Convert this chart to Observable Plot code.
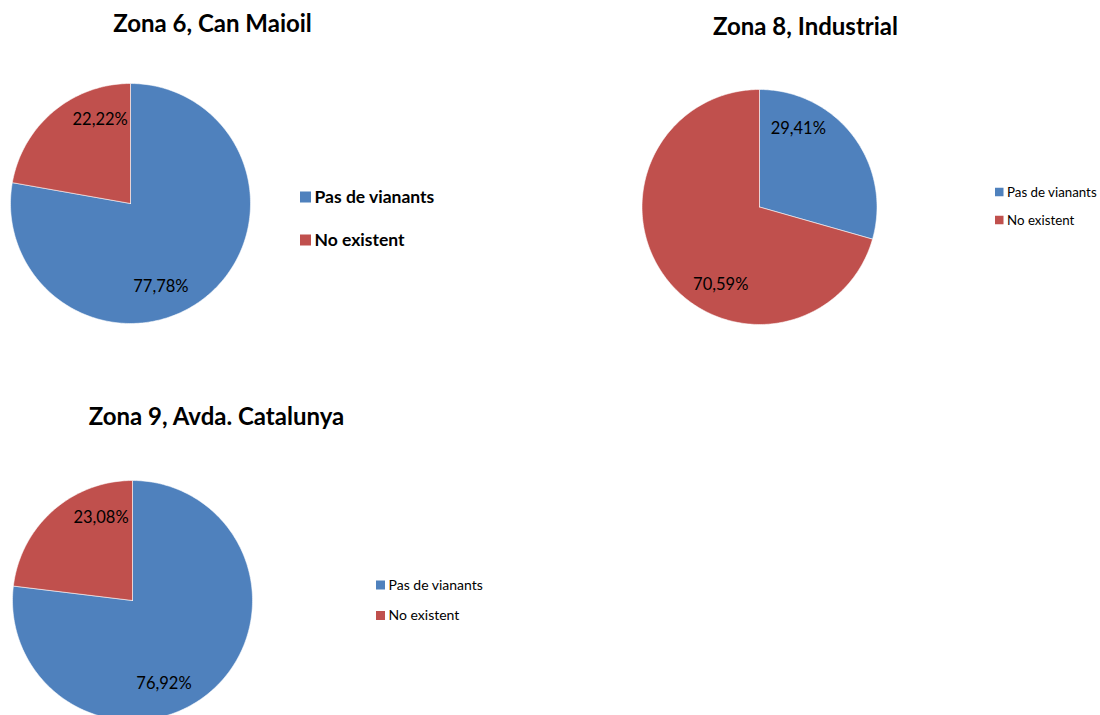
<!DOCTYPE html>
<html><head><meta charset="utf-8">
<script src="https://cdn.jsdelivr.net/npm/d3@7"></script>
<script src="https://cdn.jsdelivr.net/npm/@observablehq/plot@0.6"></script>
<style>html,body{margin:0;padding:0;background:#fff;} svg{display:block;}</style>
</head><body><div id="chart"></div>
<script>
// ---- data ----
const zones = ["Zona 6, Can Maioil", "Zona 8, Industrial", "Zona 9, Avda. Catalunya"];
const categories = ["Pas de vianants", "No existent"];
const pasDeVianants = [77.78, 29.41, 76.92];
const noExistent = [22.22, 70.59, 23.08];
const colors = ["#4F81BD", "#C0504D"];

// ---- layout (pixel space) ----
const panels = [
  {cx: 130, cy: 203, r: 120, titleX: 212, titleY: 24, legendX: 300, legendY: [197, 240], sq: 11, lf: 17.5, lw: "bold"},
  {cx: 759, cy: 206.5, r: 117.5, titleX: 805, titleY: 27, legendX: 995, legendY: [192, 220], sq: 8.5, lf: 13.3, lw: "normal"},
  {cx: 132, cy: 600, r: 120, titleX: 216, titleY: 417, legendX: 376, legendY: [585, 615.5], sq: 9, lf: 14, lw: "normal"}
];
const FONT = "Lato, 'Open Sans', sans-serif";

const rad = d => d * Math.PI / 180;
const wedgePts = [];
const labels = [];
zones.forEach((zone, i) => {
  const p = panels[i];
  const vals = [pasDeVianants[i], noExistent[i]];
  const total = d3.sum(vals);
  let cum = 0;
  vals.forEach((v, j) => {
    const a0 = cum / total * 360, a1 = (cum + v) / total * 360;
    cum += v;
    const key = zone + "|" + categories[j];
    wedgePts.push({key, category: categories[j], x: p.cx, y: p.cy});
    const n = Math.max(2, Math.ceil(a1 - a0));
    for (let k = 0; k <= n; k++) {
      const a = rad(a0 + (a1 - a0) * k / n);
      wedgePts.push({key, category: categories[j], x: p.cx + p.r * Math.sin(a), y: p.cy - p.r * Math.cos(a)});
    }
    wedgePts.push({key, category: categories[j], x: p.cx, y: p.cy});
    // label: mid-angle pulled toward the nearest vertical, inside the slice
    const mid = (a0 + a1) / 2;
    const vert = Math.round(mid / 180) * 180;
    const la = rad(mid + 0.5 * (vert - mid));
    const lr = 0.74 * p.r;
    labels.push({x: p.cx + lr * Math.sin(la), y: p.cy - lr * Math.cos(la),
                 text: v.toFixed(2).replace(".", ",") + "%"});
  });
});

const titles = zones.map((z, i) => ({x: panels[i].titleX, y: panels[i].titleY, text: z}));

const legendMarks = panels.flatMap((p, i) => {
  const items = categories.map((c, j) => ({category: c, x: p.legendX, y: p.legendY[j]}));
  return [
    Plot.rect(items, {x1: d => d.x, x2: d => d.x + p.sq, y1: d => d.y - p.sq / 2, y2: d => d.y + p.sq / 2, fill: "category"}),
    Plot.text(items, {x: d => d.x + p.sq + 3, y: "y", text: "category", textAnchor: "start", lineAnchor: "middle",
      fontSize: p.lf, fontWeight: p.lw, fill: "#000", fontFamily: FONT})
  ];
});

const chart = Plot.plot({
  width: 1100, height: 715,
  margin: 0,
  x: {domain: [0, 1100], range: [0, 1100], axis: null},
  y: {domain: [0, 715], range: [0, 715], axis: null},
  color: {domain: categories, range: colors},
  style: {background: "#fff", fontFamily: FONT},
  marks: [
    Plot.line(wedgePts, {x: "x", y: "y", z: "key", fill: "category", stroke: "#fff", strokeWidth: 0.8, strokeOpacity: 0.7, curve: "linear"}),
    Plot.text(labels, {x: "x", y: "y", text: "text", fontSize: 16.5, fill: "#000", lineAnchor: "middle", fontFamily: FONT}),
    Plot.text(titles, {x: "x", y: "y", text: "text", fontSize: 24, fontWeight: "bold", fill: "#000", lineAnchor: "middle", fontFamily: FONT}),
    ...legendMarks
  ]
});
document.getElementById("chart").appendChild(chart);
</script>
</body></html>
